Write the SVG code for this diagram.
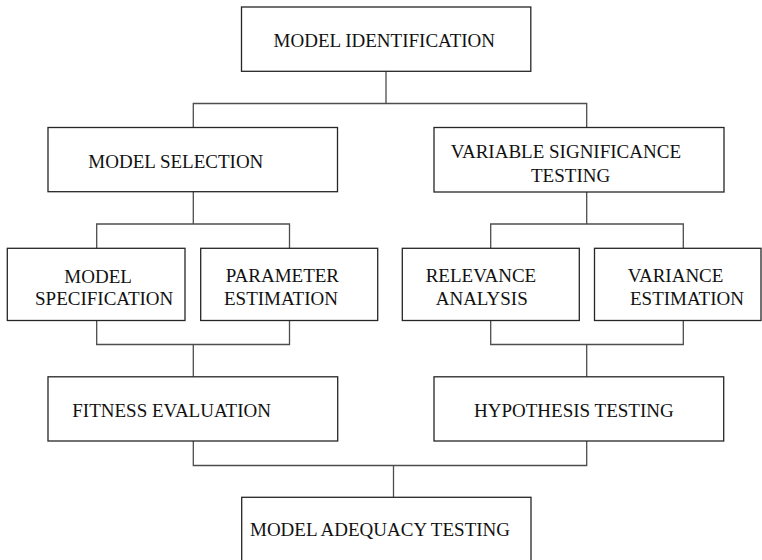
<svg xmlns="http://www.w3.org/2000/svg" width="762" height="560" viewBox="0 0 762 560">
  <style>
    .box { fill: #ffffff; stroke: #262626; stroke-width: 1.3; }
    .wire { fill: none; stroke: #4d4d4d; stroke-width: 1.3; }
    .label { font-family: "Liberation Serif", "Times New Roman", serif; font-size: 19px; fill: #111111; }
  </style>
  <rect width="762" height="560" fill="#ffffff"/>

  <!-- tree connectors -->
  <g id="connectors">
    <path class="wire" d="M386 71.3 V103.5 M193.3 127.5 V103.5 H586.7 V127.5"/>
    <path class="wire" d="M193.3 191.7 V224 M96.7 248.3 V224 H289.5 V248.3"/>
    <path class="wire" d="M586.7 191.7 V224 M490.7 248.3 V224 H683.3 V248.3"/>
    <path class="wire" d="M96.7 320.5 V344.5 H289.5 V320.5 M193.3 344.5 V376.8"/>
    <path class="wire" d="M490.7 320.5 V344.5 H683.3 V320.5 M586.7 344.5 V376.8"/>
    <path class="wire" d="M193.3 441 V465.5 H586.7 V441 M393.5 465.5 V497.3"/>
  </g>

  <g id="model-identification">
    <rect class="box" x="241.5" y="7" width="289.3" height="64.3"/>
    <text class="label" x="273.6" y="46.7">MODEL IDENTIFICATION</text>
  </g>

  <g id="model-selection">
    <rect class="box" x="48" y="127.5" width="289.5" height="64.2"/>
    <text class="label" x="88.3" y="168.3">MODEL SELECTION</text>
  </g>

  <g id="variable-significance-testing">
    <rect class="box" x="434" y="127.5" width="290" height="64.5"/>
    <text class="label" x="450.7" y="157.7">VARIABLE SIGNIFICANCE</text>
    <text class="label" x="531" y="182.3">TESTING</text>
  </g>

  <g id="model-specification">
    <rect class="box" x="7.3" y="248.3" width="177.7" height="72.2"/>
    <text class="label" x="64.3" y="282.5">MODEL</text>
    <text class="label" x="35" y="305">SPECIFICATION</text>
  </g>

  <g id="parameter-estimation">
    <rect class="box" x="200.7" y="248.3" width="177" height="72.2"/>
    <text class="label" x="225.7" y="282">PARAMETER</text>
    <text class="label" x="224" y="305">ESTIMATION</text>
  </g>

  <g id="relevance-analysis">
    <rect class="box" x="402.3" y="248.3" width="177" height="72.2"/>
    <text class="label" x="425.7" y="282">RELEVANCE</text>
    <text class="label" x="435.7" y="304.5">ANALYSIS</text>
  </g>

  <g id="variance-estimation">
    <rect class="box" x="594.5" y="248.3" width="166.5" height="72.2"/>
    <text class="label" x="627.7" y="282">VARIANCE</text>
    <text class="label" x="630" y="304.5">ESTIMATION</text>
  </g>

  <g id="fitness-evaluation">
    <rect class="box" x="48" y="376.8" width="289.7" height="64.2"/>
    <text class="label" x="72.3" y="416.7">FITNESS EVALUATION</text>
  </g>

  <g id="hypothesis-testing">
    <rect class="box" x="434" y="376.8" width="289.7" height="64.2"/>
    <text class="label" x="474" y="416.7">HYPOTHESIS TESTING</text>
  </g>

  <g id="model-adequacy-testing">
    <rect class="box" x="241.7" y="497.3" width="289.3" height="80"/>
    <text class="label" x="250" y="536">MODEL ADEQUACY TESTING</text>
  </g>
</svg>
